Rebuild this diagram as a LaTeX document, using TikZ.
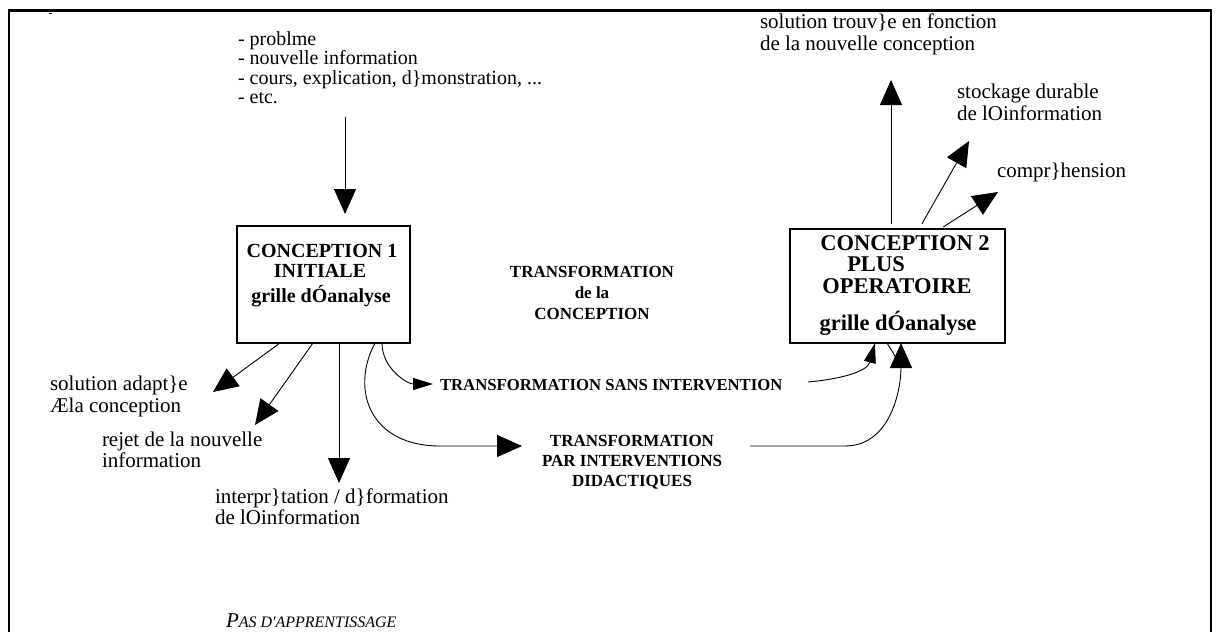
\documentclass[tikz,border=0pt]{standalone}
\usepackage{fontspec}
\setmainfont{Liberation Serif}
\usetikzlibrary{arrows.meta}
\tikzset{
  every node/.style={inner sep=0pt, outer sep=0pt},
  lbl/.style={anchor=base west, font=\fontsize{21}{21}\selectfont},
  toplbl/.style={anchor=base west, font=\fontsize{20}{20}\selectfont},
  boxtxtA/.style={anchor=base, font=\bfseries\fontsize{20}{20}\selectfont},
  boxtxtB/.style={anchor=base, font=\bfseries\fontsize{22.5}{22.5}\selectfont},
  midtxt/.style={anchor=base, font=\bfseries\fontsize{17}{17}\selectfont},
  concbox/.style={draw, line width=1.3pt},
  conn/.style={line width=0.9pt, -{Triangle[length=25pt,width=22pt]}},
  smallconn/.style={line width=0.9pt, -{Triangle[length=20pt,width=12pt]}},
}
\begin{document}
\begin{tikzpicture}[x=1pt,y=-1pt]
\useasboundingbox (0,0) rectangle (1224,632);
\clip (0,0) rectangle (1224,632);

% page frame
\draw[line width=2.5pt] (9,650) -- (9,10.5) -- (1211,10.5) -- (1211,650);
\draw[line width=1pt] (49,13) -- (51.5,13);

% incoming stimuli
\node[toplbl] (in1) at (238,45) {- problme};
\node[toplbl] (in2) at (238,64.5) {- nouvelle information};
\node[toplbl] (in3) at (238,84) {- cours, explication, d\}monstration, ...};
\node[toplbl] (in4) at (238,103.5) {- etc.};

% initial conception
\node[concbox, minimum width=173pt, minimum height=117pt] (c1) at (323.5,284.5) {};
\node[boxtxtA] (c1a) at (322,257) {CONCEPTION 1};
\node[boxtxtA] (c1b) at (320,277) {INITIALE};
\node[boxtxtA] (c1c) at (321,302) {grille dÓanalyse};

% central caption
\node[midtxt] (m1) at (592,277) {TRANSFORMATION};
\node[midtxt] (m2) at (592,298) {de la};
\node[midtxt] (m3) at (592,319) {CONCEPTION};

% more operative conception
\node[concbox, minimum width=215pt, minimum height=114pt] (c2) at (897.5,286) {};
\node[boxtxtB] (c2a) at (905,250) {CONCEPTION 2};
\node[boxtxtB] (c2b) at (876,271.5) {PLUS};
\node[boxtxtB] (c2c) at (897,293) {OPERATOIRE};
\node[boxtxtB] (c2d) at (898,330) {grille dÓanalyse};

% outcomes of the new conception
\node[lbl] (r1a) at (760,28) {solution trouv\}e en fonction};
\node[lbl] (r1b) at (760,50) {de la nouvelle conception};
\node[lbl] (r2a) at (957,98) {stockage durable};
\node[lbl] (r2b) at (957,120) {de lOinformation};
\node[lbl] (r3) at (997,177) {compr\}hension};

% outcomes without learning
\node[lbl] (l1a) at (50,390) {solution adapt\}e};
\node[lbl] (l1b) at (50,412) {Æla conception};
\node[lbl] (l2a) at (102,446) {rejet de la nouvelle};
\node[lbl] (l2b) at (102,467) {information};
\node[lbl] (l3a) at (215,503) {interpr\}tation / d\}formation};
\node[lbl] (l3b) at (215,524) {de lOinformation};

% transformation paths
\node[anchor=base west, font=\bfseries\fontsize{16.7}{17}\selectfont] (t1) at (440,390) {TRANSFORMATION SANS INTERVENTION};
\node[midtxt] (t2a) at (632,446) {TRANSFORMATION};
\node[midtxt] (t2b) at (632,466) {PAR INTERVENTIONS};
\node[midtxt] (t2c) at (632,486) {DIDACTIQUES};

\node[anchor=base west, font=\itshape\fontsize{16}{16}\selectfont] (pas) at (226,627)
  {{\fontsize{21}{21}\selectfont P}AS D\textquotesingle APPRENTISSAGE};

% free ends of connectors
\coordinate (inTop) at (345,117);
\coordinate (solTip) at (213,392);
\coordinate (rejTip) at (255,425);
\coordinate (intTip) at (339,483);
\coordinate (sansTip) at (433,384);
\coordinate (parTip) at (522,446);
\coordinate (sansEnd) at (808,382);
\coordinate (parEnd) at (750,446);
\coordinate (trTip) at (891,80);
\coordinate (stoTip) at (969,141);
\coordinate (comTip) at (998,192);

% connectors
\draw[conn, shorten >=12pt] (inTop) -- (inTop |- c1.north);
\draw[conn] ([xshift=-43.5pt]c1.south) -- (solTip);
\draw[conn] ([xshift=-10.5pt]c1.south) -- (rejTip);
\draw[conn] ([xshift=15.5pt]c1.south) -- (intTip);
\draw[smallconn] ([xshift=58.5pt]c1.south) to[out=-90,in=180] (sansTip);
\draw[conn] ([xshift=51.5pt]c1.south) .. controls (350,390) and (370,446) .. (440,446) -- (parTip);

\draw[smallconn] (sansEnd) to[out=5,in=-105] ([xshift=-22.5pt]c2.south);
\draw[conn] (parEnd) -- ++(95,0) to[out=0,in=-90] ([xshift=3.5pt]c2.south);
\draw[line width=0.9pt] ([xshift=-10.5pt]c2.south) to[out=-60,in=100] ++(10,20);

\draw[conn, shorten <=5pt] ([xshift=-6.5pt]c2.north) -- (trTip);
\draw[conn, shorten <=6pt] ([xshift=21.5pt]c2.north) -- (stoTip);
\draw[conn, shorten <=4pt] ([xshift=42.5pt]c2.north) -- (comTip);
\end{tikzpicture}
\end{document}
